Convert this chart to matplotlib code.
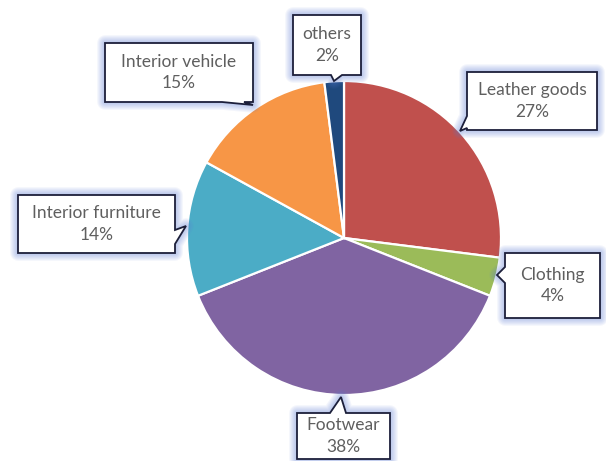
import numpy as np
import matplotlib
matplotlib.use("Agg")
import matplotlib.pyplot as plt
from matplotlib.patches import Polygon

labels = ["Leather goods", "Clothing", "Footwear", "Interior furniture",
          "Interior vehicle", "others"]
shares = [27, 4, 38, 14, 15, 2]
colors = ["#C0504D", "#9BBB59", "#8064A2", "#4BACC6", "#F79646", "#1F497D"]

W, H = 606, 461

# callout boxes in pixel coords (top-left origin): x0, y0, x1, y1,
# edge with the pointer, notch start/end along that edge, pointer tip
callouts = [
    (467, 72, 597, 130, "left", 116, 128, (460, 131)),
    (505, 253, 600, 318, "left", 267, 283, (497, 275)),
    (297, 413, 390, 459, "top", 330, 346, (341, 397)),
    (18, 195, 175, 253, "right", 230, 244, (186, 226)),
    (105, 43, 253, 102, "bottom", 222, 244, (253, 105)),
    (293, 15, 361, 75, "bottom", 331, 342, (334, 81)),
]


def fy(y):
    return H - y


def callout_poly(x0, y0, x1, y1, edge, a, b, tip):
    if edge == "left":
        pts = [(x0, y0), (x1, y0), (x1, y1), (x0, y1), (x0, b), tip, (x0, a)]
    elif edge == "right":
        pts = [(x0, y0), (x1, y0), (x1, a), tip, (x1, b), (x1, y1), (x0, y1)]
    elif edge == "top":
        pts = [(x0, y0), (a, y0), tip, (b, y0), (x1, y0), (x1, y1), (x0, y1)]
    else:
        pts = [(x0, y0), (x1, y0), (x1, y1), (b, y1), tip, (a, y1), (x0, y1)]
    return [(px, fy(py)) for px, py in pts]


fig = plt.figure(figsize=(W / 100, H / 100), dpi=100)
ax = fig.add_axes([0, 0, 1, 1])

ax.pie(shares, colors=colors, startangle=90, counterclock=False,
       center=(344, fy(238)), radius=157, frame=True,
       wedgeprops=dict(edgecolor="white", linewidth=1.6))
ax.set_xlim(0, W)
ax.set_ylim(0, H)
ax.set_aspect("equal")
ax.axis("off")

for (x0, y0, x1, y1, edge, a, b, tip), lab, v in zip(callouts, labels, shares):
    pts = callout_poly(x0, y0, x1, y1, edge, a, b, tip)
    # soft blue glow around the box
    for k in range(7, 0, -1):
        ax.add_patch(Polygon(pts, closed=True, facecolor="none",
                             edgecolor="#5b7fd6", linewidth=k * 1.6,
                             alpha=0.07, joinstyle="round", zorder=3))
    ax.add_patch(Polygon(pts, closed=True, facecolor="white",
                         edgecolor="#1c1f3a", linewidth=1.3, zorder=4))
    ax.text((x0 + x1) / 2, fy((y0 + y1) / 2), f"{lab}\n{v}%",
            ha="center", va="center", fontsize=12.5, color="#5f5f5f",
            family="Lato", linespacing=1.4, zorder=5)

fig.savefig("out.png", dpi=100)
